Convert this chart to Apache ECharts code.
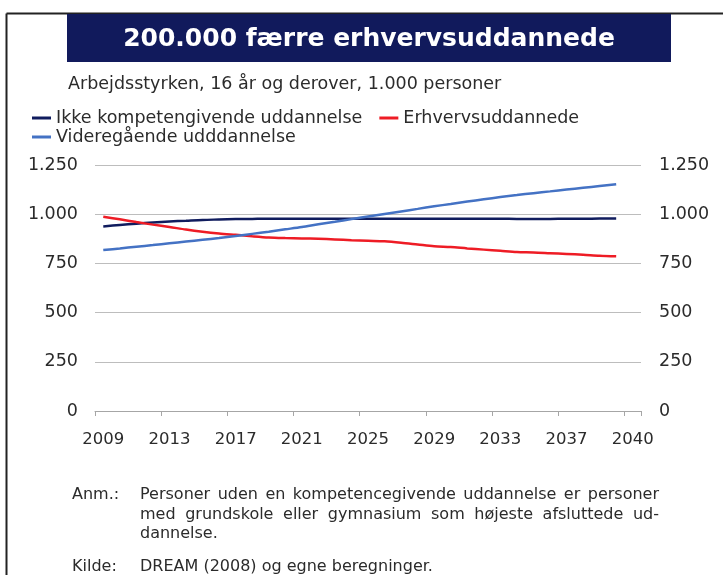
<!DOCTYPE html>
<html>
<head>
  <meta charset="utf-8" />
  <title>200.000 færre erhvervsuddannede</title>
  <script src="https://cdn.jsdelivr.net/npm/echarts/dist/echarts.min.js"></script>
  <style>
    html, body { margin: 0; padding: 0; background: #fff; }
    #chart { width: 723px; height: 575px; }
  </style>
</head>
<body>
  <div id="chart"></div>
  <script>
    // years with data (2009-2040)
    const years = ['2009','2010','2011','2012','2013','2014','2015','2016','2017','2018',
                   '2019','2020','2021','2022','2023','2024','2025','2026','2027','2028',
                   '2029','2030','2031','2032','2033','2034','2035','2036','2037','2038',
                   '2039','2040'];
    // axis tick labels by category index (axis has one empty slot after the data)
    const tickIndex = [0, 4, 8, 12, 16, 20, 24, 28, 32];
    const tickText  = ['2009','2013','2017','2021','2025','2029','2033','2037','2040'];

    const ikke = [938, 945, 952, 958, 963, 967, 971, 973, 975, 976,
                  977, 977, 977, 977, 977, 977, 977, 977, 977, 977,
                  977, 977, 977, 977, 977, 976, 976, 976, 977, 977,
                  978, 978];
    const erhverv = [987, 974, 960, 947, 935, 922, 911, 902, 895, 888,
                     882, 879, 877, 875, 872, 868, 865, 862, 855, 846,
                     837, 833, 826, 820, 814, 808, 806, 802, 798, 794,
                     789, 786];
    const videre = [818, 826, 835, 843, 852, 861, 870, 879, 889, 900,
                    911, 923, 935, 949, 962, 975, 988, 1001, 1014, 1027,
                    1040, 1052, 1064, 1076, 1087, 1097, 1107, 1116, 1125, 1134,
                    1143, 1152];

    const seriesNames = ['Ikke kompetengivende uddannelse', 'Erhvervsuddannede', 'Videregående udddannelse'];
    const colors = ['#101c5e', '#ee1c25', '#4472c4'];

    const FONT = '"DejaVu Sans", Verdana, sans-serif';
    const TXT = '#2b2b2b';
    const NOTE_FONT = '16px ' + FONT;

    function fmtThousands(v) {
      return String(v).replace(/\B(?=(\d{3})+(?!\d))/g, '.');
    }

    // justified line: one text element per word, spread between x0 and x1
    const measureCtx = document.createElement('canvas').getContext('2d');
    function justifiedLine(line, x0, x1, y) {
      measureCtx.font = NOTE_FONT;
      const words = line.split(' ');
      const widths = words.map(w => measureCtx.measureText(w).width);
      const total = widths.reduce((a, b) => a + b, 0);
      const gap = (x1 - x0 - total) / (words.length - 1);
      let x = x0;
      return words.map((w, i) => {
        const el = { type: 'text', x: x, y: y,
          style: { text: w, fill: TXT, verticalAlign: 'middle', font: NOTE_FONT } };
        x += widths[i] + gap;
        return el;
      });
    }

    const chart = echarts.init(document.getElementById('chart'));

    const yAxisBase = {
      type: 'value',
      min: 0,
      max: 1250,
      interval: 250,
      axisLine: { show: false },
      axisTick: { show: false },
      axisLabel: {
        fontFamily: FONT, fontSize: 17.5, color: TXT,
        formatter: fmtThousands
      }
    };

    const option = {
      animation: false,
      textStyle: { fontFamily: FONT },
      graphic: [
        // frame
        { type: 'line', shape: { x1: 6.5, y1: 13.5, x2: 723, y2: 13.5 }, style: { stroke: '#222', lineWidth: 2 } },
        { type: 'line', shape: { x1: 6.5, y1: 13.5, x2: 6.5, y2: 575 }, style: { stroke: '#222', lineWidth: 2 } },
        // title box
        { type: 'rect', shape: { x: 67, y: 14, width: 604, height: 48 }, style: { fill: '#111a5c' } },
        {
          type: 'text', x: 369, y: 39, z: 10,
          style: { text: '200.000 færre erhvervsuddannede', fill: '#fff',
                   align: 'center', verticalAlign: 'middle',
                   font: 'bold 25px ' + FONT }
        },
        {
          type: 'text', x: 68, y: 84,
          style: { text: 'Arbejdsstyrken, 16 år og derover, 1.000 personer', fill: TXT,
                   verticalAlign: 'middle', font: '17.5px ' + FONT }
        },
        // notes
        { type: 'text', x: 72, y: 495, style: { text: 'Anm.:', fill: TXT, verticalAlign: 'middle', font: NOTE_FONT } }
      ]
      .concat(justifiedLine('Personer uden en kompetencegivende uddannelse er personer', 140, 659, 495))
      .concat(justifiedLine('med grundskole eller gymnasium som højeste afsluttede ud-', 140, 659, 515))
      .concat([
        { type: 'text', x: 140, y: 534, style: { text: 'dannelse.', fill: TXT, verticalAlign: 'middle', font: NOTE_FONT } },
        { type: 'text', x: 72, y: 567, style: { text: 'Kilde:', fill: TXT, verticalAlign: 'middle', font: NOTE_FONT } },
        { type: 'text', x: 140, y: 567, style: { text: 'DREAM (2008) og egne beregninger.', fill: TXT, verticalAlign: 'middle', font: NOTE_FONT } }
      ]),
      legend: [
        {
          data: [seriesNames[0], seriesNames[1]],
          left: 27, top: 104,
          icon: 'rect', itemWidth: 19, itemHeight: 3, itemGap: 17,
          textStyle: { fontFamily: FONT, fontSize: 17.5, color: TXT }
        },
        {
          data: [seriesNames[2]],
          left: 27, top: 123,
          icon: 'rect', itemWidth: 19, itemHeight: 3,
          textStyle: { fontFamily: FONT, fontSize: 17.5, color: TXT }
        }
      ],
      grid: { left: 95, right: 82, top: 165, bottom: 164, containLabel: false },
      xAxis: {
        type: 'category',
        data: years.concat(['']),
        boundaryGap: true,
        axisLine: { lineStyle: { color: '#a6a6a6', width: 1 } },
        axisTick: { show: true, interval: 3, length: 5, lineStyle: { color: '#a6a6a6' } },
        axisLabel: {
          interval: 0, margin: 20,
          fontFamily: FONT, fontSize: 16.5, color: TXT,
          formatter: function (value, idx) {
            const k = tickIndex.indexOf(idx);
            return k >= 0 ? tickText[k] : '';
          }
        }
      },
      yAxis: [
        Object.assign({}, yAxisBase, {
          position: 'left',
          axisLabel: Object.assign({}, yAxisBase.axisLabel, { margin: 17 }),
          splitLine: { lineStyle: { color: '#bdbdbd', width: 1 } }
        }),
        Object.assign({}, yAxisBase, {
          position: 'right',
          axisLabel: Object.assign({}, yAxisBase.axisLabel, { margin: 18 }),
          splitLine: { show: false }
        })
      ],
      series: [
        { name: seriesNames[0], type: 'line', data: ikke, showSymbol: false, smooth: 0.3,
          lineStyle: { width: 2.5, color: colors[0] }, itemStyle: { color: colors[0] } },
        { name: seriesNames[1], type: 'line', data: erhverv, showSymbol: false, smooth: 0.3,
          lineStyle: { width: 2.5, color: colors[1] }, itemStyle: { color: colors[1] } },
        { name: seriesNames[2], type: 'line', data: videre, showSymbol: false, smooth: 0.3,
          lineStyle: { width: 2.5, color: colors[2] }, itemStyle: { color: colors[2] } }
      ]
    };

    chart.setOption(option);
  </script>
</body>
</html>
